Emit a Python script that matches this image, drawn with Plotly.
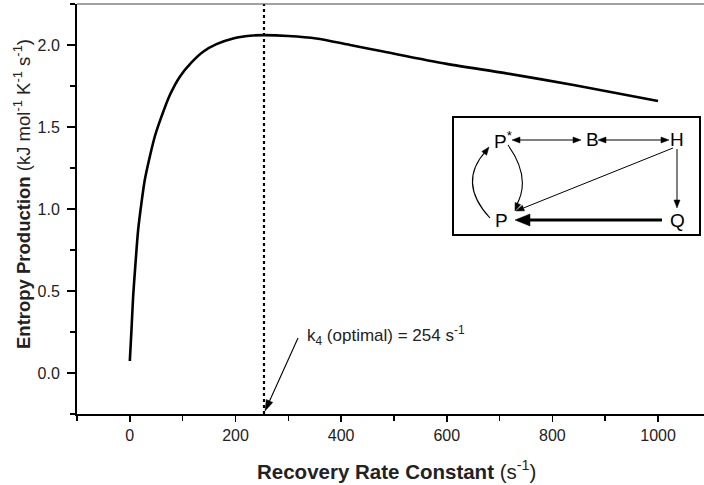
import math
import plotly.graph_objects as go

# ---- data ----
rate_constant = [0, 3.2, 6.3, 10.8, 15.8, 22, 28.4, 37.9, 47.3, 59.9, 75.8, 94.7, 116.8, 138.8, 164, 195.6,
                 233.5, 254, 300, 353, 417, 480, 600, 713, 840, 1000]
entropy_prod = [0.073, 0.266, 0.468, 0.671, 0.874, 1.036, 1.178, 1.32, 1.442, 1.563, 1.695, 1.807, 1.894,
                1.959, 2.005, 2.04, 2.058, 2.06, 2.055, 2.04, 2.00, 1.96, 1.885, 1.827, 1.756, 1.659]
k4_optimal = 254
x_ticks = [0, 200, 400, 600, 800, 1000]
y_ticks = [0.0, 0.5, 1.0, 1.5, 2.0]
y_tick_labels = ["0.0", "0.5", "1.0", "1.5", "2.0"]

FONT = "Liberation Sans, Arial, Helvetica, sans-serif"

# plot-area pixel frame (for placing the annotation and the inset scheme)
L, T, R, B = 77, 4, 704, 414
def px(x):
    return (x - L) / (R - L)
def py(y):
    return (B - y) / (B - T)

fig = go.Figure()
fig.add_trace(go.Scatter(x=rate_constant, y=entropy_prod, mode="lines",
                         line=dict(color="black", width=2.6, shape="spline", smoothing=0.8),
                         hoverinfo="skip", showlegend=False))

shapes = []
annotations = []

# vertical dotted line at the optimum
shapes.append(dict(type="line", xref="x", yref="y", x0=k4_optimal, x1=k4_optimal, y0=-0.25, y1=2.25,
                   line=dict(color="black", width=2.2, dash="dot")))
# top frame line
shapes.append(dict(type="line", xref="paper", yref="paper", x0=0, x1=1, y0=1, y1=1,
                   line=dict(color="#444", width=1)))


def head(tip, frm, hl, hw):
    dx, dy = tip[0] - frm[0], tip[1] - frm[1]
    n = math.hypot(dx, dy)
    ux, uy = dx / n, dy / n
    bx, by = tip[0] - hl * ux, tip[1] - hl * uy
    p1 = (bx - hw * uy, by + hw * ux)
    p2 = (bx + hw * uy, by - hw * ux)
    path = "M %f,%f L %f,%f L %f,%f Z" % (px(tip[0]), py(tip[1]), px(p1[0]), py(p1[1]), px(p2[0]), py(p2[1]))
    shapes.append(dict(type="path", xref="paper", yref="paper", path=path, fillcolor="black",
                       line=dict(color="black", width=0.5), layer="above"))
    return (bx, by)


def arrow(tail, tip, width=1.0, hl=8, hw=3, both=False):
    end = head(tip, tail, hl, hw)
    start = head(tail, tip, hl, hw) if both else tail
    shapes.append(dict(type="line", xref="paper", yref="paper", x0=px(start[0]), y0=py(start[1]),
                       x1=px(end[0]), y1=py(end[1]), line=dict(color="black", width=width), layer="above"))


# optimum annotation
arrow((298, 338), (265, 411), width=1.1, hl=11, hw=3.5)
annotations.append(dict(x=px(305), y=py(335), xref="paper", yref="paper", xanchor="left", yanchor="middle",
                        text="k<sub>4</sub> (optimal) = %d s<sup>-1</sup>" % k4_optimal, showarrow=False,
                        font=dict(family=FONT, size=17, color="#222")))

# ---- inset reaction scheme ----
shapes.append(dict(type="rect", xref="paper", yref="paper", x0=px(453), x1=px(700), y0=py(235), y1=py(117),
                   line=dict(color="black", width=2), fillcolor="white", layer="above"))

nodes = {"P<sup>*</sup>": (503, 140), "B": (592, 140), "H": (677, 140), "P": (502, 220), "Q": (677, 220)}
for label, (nx, ny) in nodes.items():
    annotations.append(dict(x=px(nx), y=py(ny), xref="paper", yref="paper", text=label, showarrow=False,
                            xanchor="center", yanchor="middle", font=dict(family=FONT, size=19, color="black")))

arrow((512, 140), (581, 140), both=True)
arrow((598, 140), (669, 140), both=True)
arrow((677, 149), (677, 208))
arrow((673, 148), (516, 211))
arrow((662, 220), (515, 220), width=3.2, hl=15, hw=6)


def bez(p0, c, p2):
    return "M %f,%f Q %f,%f %f,%f" % (px(p0[0]), py(p0[1]), px(c[0]), py(c[1]), px(p2[0]), py(p2[1]))


shapes.append(dict(type="path", xref="paper", yref="paper", path=bez((490, 218), (457, 182.5), (486, 151)),
                   line=dict(color="black", width=1.1), layer="above"))
shapes.append(dict(type="path", xref="paper", yref="paper", path=bez((508, 145), (532, 178.5), (516, 206)),
                   line=dict(color="black", width=1.1), layer="above"))
head((489, 147), (483, 155), 8, 3)
head((515, 211), (518.5, 202), 8, 3)

# axis titles
annotations.append(dict(x=px(396), y=py(470), xref="paper", yref="paper", showarrow=False,
                        xanchor="center", yanchor="middle",
                        text="<b>Recovery Rate Constant</b> (s<sup>-1</sup>)",
                        font=dict(family=FONT, size=20.5, color="#222")))
annotations.append(dict(x=px(22), y=py(194), xref="paper", yref="paper", showarrow=False, textangle=-90,
                        xanchor="center", yanchor="middle",
                        text="<b>Entropy Production</b> (kJ mol<sup>-1</sup> K<sup>-1</sup> s<sup>-1</sup>)",
                        font=dict(family=FONT, size=18.5, color="#222")))

fig.update_layout(
    width=704, height=485,
    margin=dict(l=L, r=0, t=T, b=485 - B, pad=0),
    paper_bgcolor="white", plot_bgcolor="white",
    shapes=shapes, annotations=annotations,
    font=dict(family=FONT, size=16, color="#222"),
    xaxis=dict(range=[-100, 1087], tickvals=x_ticks, ticks="outside", ticklen=6, tickwidth=1.5,
               showline=True, linecolor="black", linewidth=2, showgrid=False, zeroline=False,
               minor=dict(dtick=100, tick0=-100, ticks="outside", ticklen=5, tickwidth=1.5, tickcolor="black"),
               tickcolor="black", tickfont=dict(family=FONT, size=16, color="#222")),
    yaxis=dict(range=[-0.25, 2.25], tickvals=y_ticks, ticktext=y_tick_labels, ticks="outside", ticklen=8,
               tickwidth=1.5, showline=True, linecolor="black", linewidth=2, showgrid=False, zeroline=False,
               minor=dict(dtick=0.25, tick0=0, ticks="outside", ticklen=5, tickwidth=1.5, tickcolor="black"),
               tickcolor="black", ticklabelstandoff=4, tickfont=dict(family=FONT, size=16, color="#222")),
)

fig.write_html("out.html", config={"displayModeBar": False, "staticPlot": True},
               post_script="document.body.style.margin='0';document.body.style.overflow='hidden';")
